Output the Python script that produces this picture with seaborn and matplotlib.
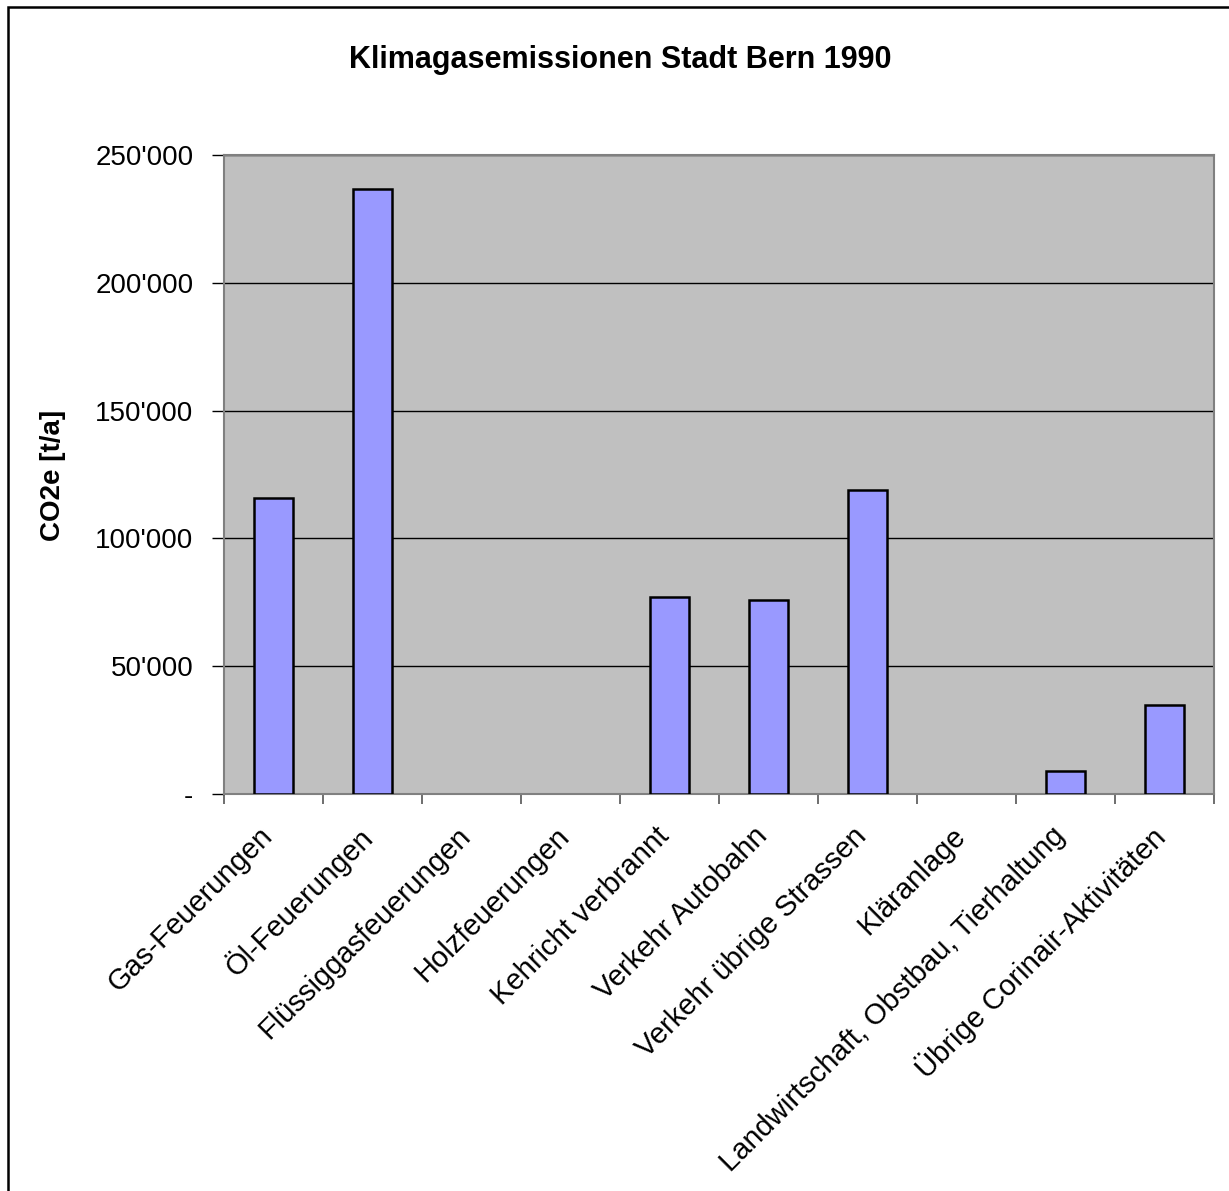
import matplotlib
matplotlib.use("Agg")
import matplotlib.pyplot as plt
import matplotlib.transforms as mtransforms
import seaborn as sns
import pandas as pd
from matplotlib.patches import Rectangle
from matplotlib.ticker import FuncFormatter

categories = ["Gas-Feuerungen", "Öl-Feuerungen", "Flüssiggasfeuerungen", "Holzfeuerungen",
              "Kehricht verbrannt", "Verkehr Autobahn", "Verkehr übrige Strassen", "Kläranlage",
              "Landwirtschaft, Obstbau, Tierhaltung", "Übrige Corinair-Aktivitäten"]
values = [115700, 236800, 0, 0, 77000, 75800, 118800, 0, 9100, 34900]
title = "Klimagasemissionen Stadt Bern 1990"
ylabel = "CO2e [t/a]"
yticks = [0, 50000, 100000, 150000, 200000, 250000]

df = pd.DataFrame({"cat": categories, "val": values})

sns.set_theme(style="white")
plt.rcParams['font.family'] = ['Liberation Sans', 'DejaVu Sans']
plt.rcParams['text.color'] = 'black'
plt.rcParams['axes.labelcolor'] = 'black'
plt.rcParams['xtick.color'] = 'black'
plt.rcParams['ytick.color'] = 'black'
plt.rcParams['xtick.labelcolor'] = 'black'
plt.rcParams['ytick.labelcolor'] = 'black'

W, H = 1229, 1191
fig = plt.figure(figsize=(W/100, H/100), dpi=100)
ax = fig.add_axes([224/W, 1-794/H, (1214-224)/W, (794-155)/H])
ax.set_facecolor("#C0C0C0")

sns.barplot(data=df, x="cat", y="val", ax=ax, color="#9999FF", width=0.4,
            edgecolor="black", linewidth=1.8, saturation=1, zorder=3)
for p in ax.patches:
    if p.get_height() == 0:
        p.set_linewidth(0)

ax.set_ylim(0, 250000)
ax.set_xlim(-0.5, len(categories)-0.5)
ax.set_yticks(yticks)
ax.yaxis.set_major_formatter(FuncFormatter(lambda v, p: "-" if v == 0 else f"{int(v):,}".replace(",", "'")))
ax.grid(axis="y", color="black", linewidth=1.0, zorder=1)
ax.set_axisbelow(True)

# x ticks at category boundaries, labels at centers
ax.set_xticks([i - 0.5 for i in range(len(categories)+1)])
ax.set_xticklabels([])
ax.set_xticks(range(len(categories)), minor=True)
ax.tick_params(axis="x", which="minor", length=0, pad=20, labelcolor="black")
ax.tick_params(axis="x", which="major", length=7, width=1.2, color="#555555", direction="out", bottom=True)
ax.tick_params(axis="y", length=9, width=1.0, color="black", direction="out", left=True,
               labelsize=20, pad=13, labelcolor="black")
ax.set_xticklabels(categories, minor=True, rotation=45, ha="right", va="top",
                   rotation_mode="anchor", fontsize=21, color="black")
offset = mtransforms.ScaledTranslation(-15/100, 0, fig.dpi_scale_trans)
for lbl in ax.get_xticklabels(minor=True):
    lbl.set_transform(lbl.get_transform() + offset)

for s in ax.spines.values():
    s.set_color("#808080")
    s.set_linewidth(1.5)

ax.set_xlabel("")
ax.set_ylabel("")
fig.text(53/W, 1-475/H, ylabel, ha="center", va="center", rotation=90, fontsize=20,
         fontweight="bold", color="black")
fig.text(620/W, 1-60/H, title, ha="center", va="center", fontsize=22, fontweight="bold", color="black")

fig.patches.append(Rectangle((8/W, -0.1), 1.2, 1-7/H+0.1, transform=fig.transFigure,
                             fill=False, edgecolor="black", linewidth=1.8))

fig.savefig("out.png", dpi=100)
